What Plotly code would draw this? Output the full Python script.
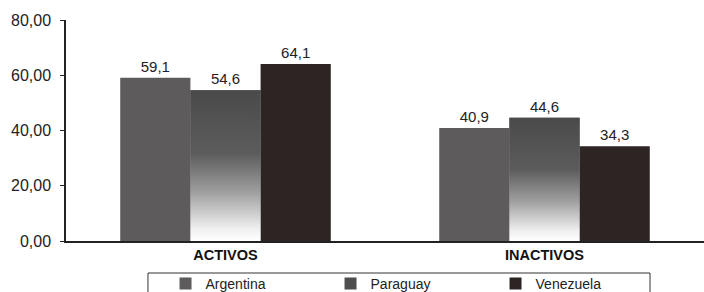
import plotly.graph_objects as go

categories = ["ACTIVOS", "INACTIVOS"]
argentina = [59.1, 40.9]
paraguay = [54.6, 44.6]
venezuela = [64.1, 34.3]
y_ticks = [0, 20, 40, 60, 80]

series = [
    ("Argentina", argentina, "#5d5b5b"),
    ("Paraguay", paraguay, "#4e4e4e"),
    ("Venezuela", venezuela, "#2c2523"),
]

FONT = "Liberation Sans, Arial"
BARGAP = 0.34
n = len(series)
bw = (1 - BARGAP) / n
xs = list(range(len(categories)))

fig = go.Figure()
for name, vals, col in series:
    fig.add_trace(go.Bar(
        name=name, x=xs, y=vals, marker=dict(color=col, line=dict(width=0)),
        texttemplate="%{y:.1f}", textposition="outside",
        textfont=dict(family=FONT, size=15, color="#222"),
        cliponaxis=False,
    ))

# gradient overlay for Paraguay bars (middle bar of each group)
for i, v in zip(xs, paraguay):
    x0, x1 = i - bw / 2, i + bw / 2
    fig.add_trace(go.Scatter(
        x=[x0, x1, x1, x0, x0], y=[0, 0, v, v, 0], mode="lines",
        line=dict(width=0), fill="toself", showlegend=False, hoverinfo="skip",
        fillgradient=dict(type="vertical", start=0, stop=v,
                          colorscale=[[0, "#ffffff"], [0.08, "#f0f0f0"],
                                      [0.32, "#a0a0a0"], [0.58, "#5c5c5c"],
                                      [1, "#4a4a4a"]]),
    ))

# legend frame (drawn as a shape so the text can sit close to the top edge)
fig.add_shape(type="rect", xref="paper", yref="paper",
              x0=0.1285, x1=0.9154, y0=-0.1448, y1=-0.30,
              line=dict(color="#333", width=1), fillcolor="rgba(0,0,0,0)")

fig.update_layout(
    width=704, height=292,
    margin=dict(l=66, r=0, t=20, b=51, autoexpand=False),
    paper_bgcolor="white", plot_bgcolor="white",
    barmode="group", bargap=BARGAP, bargroupgap=0,
    separators=",.",
    font=dict(family=FONT, size=14, color="#222"),
    showlegend=True,
    legend=dict(orientation="h", x=0.156, xanchor="left", y=-0.1222, yanchor="top",
                borderwidth=0, bgcolor="rgba(0,0,0,0)",
                entrywidth=120, entrywidthmode="pixels", itemwidth=30,
                font=dict(size=14, color="#222"), tracegroupgap=0),
)
fig.update_xaxes(
    tickvals=xs, ticktext=[f"<b>{c}</b>" for c in categories],
    range=[-0.5, len(categories) - 0.5],
    showline=True, linecolor="#222", linewidth=2, ticks="", showgrid=False,
    tickfont=dict(size=14.5, color="#111", family=FONT),
    zeroline=False,
)
fig.update_yaxes(
    range=[0, 80], tickvals=y_ticks, tickformat=".2f",
    showline=True, linecolor="#222", linewidth=1.5, ticks="outside", ticklen=4,
    tickcolor="#222", showgrid=False, zeroline=False, ticklabelstandoff=6,
    tickfont=dict(size=16, color="#222"),
)

fig.write_html("out.html", post_script="document.body.style.margin='0';",
               config={"displayModeBar": False})
